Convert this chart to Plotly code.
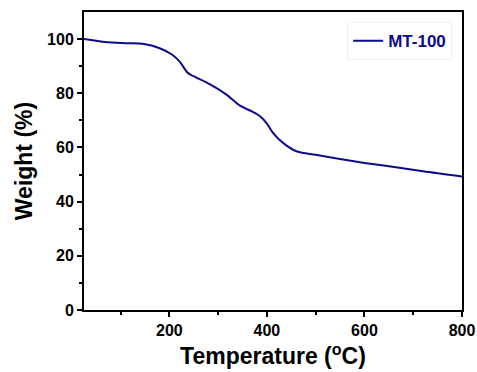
import plotly.graph_objects as go

temps = [25, 50, 76, 110, 148, 179, 206, 222, 237, 255, 276, 317, 344, 370, 386, 400, 412, 433, 462, 500, 550, 600, 654, 720, 800]
weights = [100, 99.4, 98.8, 98.5, 98.2, 96.7, 94.2, 91.5, 87.7, 85.8, 84.0, 79.5, 75.5, 73.2, 71.5, 68.8, 65.5, 61.7, 58.5, 57.3, 55.7, 54.3, 53.0, 51.2, 49.3]

series_name = "MT-100"
line_color = "#0b0b8c"
font_family = "Liberation Sans, Arial, sans-serif"

fig = go.Figure()
fig.add_trace(go.Scatter(
    x=temps, y=weights, mode="lines", name=series_name,
    line=dict(color=line_color, width=2, shape="spline", smoothing=0.8),
))

axis_common = dict(
    showline=True, linecolor="black", linewidth=2, mirror=True,
    ticks="outside", tickwidth=2, ticklen=5, tickcolor="black",
    showgrid=False, zeroline=False, automargin=False,
    tickfont=dict(family=font_family, size=16, color="black", weight="bold"),
)

fig.update_layout(
    width=477, height=372,
    margin=dict(l=84, r=15, t=12, b=62),
    plot_bgcolor="white", paper_bgcolor="white",
    font=dict(family=font_family, color="black"),
    showlegend=True,
    legend=dict(
        x=0.974, y=0.966, xanchor="right", yanchor="top",
        bgcolor="white", bordercolor="#f0f0f0", borderwidth=1,
        font=dict(family=font_family, size=17, color=line_color, weight="bold"),
        itemwidth=30, tracegroupgap=0,
    ),
    xaxis=dict(
        range=[25, 800], tickvals=[200, 400, 600, 800],
        minor=dict(tickvals=[100, 300, 500, 700], ticks="outside", ticklen=3, tickwidth=2, tickcolor="black"),
        title=dict(text="Temperature (<sup>o</sup>C)", font=dict(family=font_family, size=23, weight="bold"), standoff=10),
        **axis_common,
    ),
    yaxis=dict(
        range=[0, 110], tickvals=[0, 20, 40, 60, 80, 100],
        minor=dict(tickvals=[10, 30, 50, 70, 90], ticks="outside", ticklen=3, tickwidth=2, tickcolor="black"),
        title=dict(text="Weight (%)", font=dict(family=font_family, size=23, weight="bold"), standoff=8),
        **axis_common,
    ),
)

fig.write_html("out.html")
